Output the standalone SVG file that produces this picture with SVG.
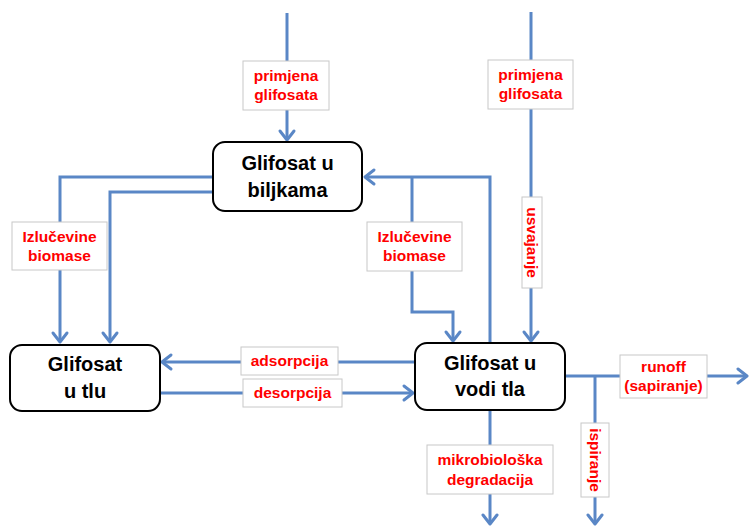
<svg xmlns="http://www.w3.org/2000/svg" width="749" height="526" viewBox="0 0 749 526">
<defs>
<marker id="arr" markerUnits="userSpaceOnUse" markerWidth="20" markerHeight="20" viewBox="-12 -10 14 20" refX="0" refY="0" orient="auto">
<path d="M-9,-7 L0,0 L-9,7" fill="none" stroke="#5a87c6" stroke-width="3" stroke-linecap="round" stroke-linejoin="round"/>
</marker>
<style>
.c{fill:none;stroke:#5a87c6;stroke-width:3}
.a{marker-end:url(#arr)}
.n rect{fill:#fff;stroke:#000;stroke-width:2}
.n text{font-family:"Liberation Sans",Arial,sans-serif;font-weight:bold;font-size:20px;fill:#000;text-anchor:middle}
.l rect{fill:#fff;stroke:#c8c8c8;stroke-width:1}
.l text{font-family:"Liberation Sans",Arial,sans-serif;font-weight:bold;font-size:15.5px;fill:#ff0000;text-anchor:middle}
</style>
</defs>
<g id="connectors">
<path class="c a" d="M287,13 V140"/>
<path class="c a" d="M531,12 V341"/>
<path class="c a" d="M490,343 V177 H365"/>
<path class="c a" d="M412,177 V312 H453 V341"/>
<path class="c a" d="M213,177 H60 V342"/>
<path class="c a" d="M213,192 H110 V342"/>
<path class="c a" d="M415,362 H162"/>
<path class="c a" d="M160,393 H413"/>
<path class="c a" d="M565,376 H747"/>
<path class="c a" d="M595,376 V524"/>
<path class="c a" d="M490,410 V524"/>
</g>
<g id="n_biljkama" class="n">
<rect x="213" y="142" width="149" height="69" rx="12"/>
<text x="287.5" y="170">Glifosat u</text>
<text x="287.5" y="197">biljkama</text>
</g>
<g id="n_tlu" class="n">
<rect x="10" y="345" width="150" height="66" rx="12"/>
<text x="85" y="371">Glifosat</text>
<text x="85" y="398">u tlu</text>
</g>
<g id="n_vodi" class="n">
<rect x="415" y="343" width="150" height="67" rx="12"/>
<text x="490" y="370">Glifosat u</text>
<text x="490" y="396">vodi tla</text>
</g>
<g id="l_primjena1" class="l">
<rect x="243" y="61" width="86" height="49"/>
<text x="286" y="81">primjena</text>
<text x="286" y="100">glifosata</text>
</g>
<g id="l_primjena2" class="l">
<rect x="488" y="60" width="85" height="49"/>
<text x="530.5" y="80">primjena</text>
<text x="530.5" y="99">glifosata</text>
</g>
<g id="l_usvajanje" class="l">
<rect x="522" y="197" width="20" height="91"/>
<text transform="translate(532,242.5) rotate(90)" y="5.5">usvajanje</text>
</g>
<g id="l_izl1" class="l">
<rect x="12" y="222" width="95" height="48"/>
<text x="59.5" y="242">Izlučevine</text>
<text x="59.5" y="261">biomase</text>
</g>
<g id="l_izl2" class="l">
<rect x="367" y="222" width="95" height="49"/>
<text x="414.5" y="242">Izlučevine</text>
<text x="414.5" y="261">biomase</text>
</g>
<g id="l_adsorpcija" class="l">
<rect x="241" y="347" width="97" height="28"/>
<text x="289.5" y="366">adsorpcija</text>
</g>
<g id="l_desorpcija" class="l">
<rect x="243" y="379" width="99" height="28"/>
<text x="292.5" y="398">desorpcija</text>
</g>
<g id="l_runoff" class="l">
<rect x="620" y="355" width="87" height="43"/>
<text x="663.5" y="372">runoff</text>
<text x="663.5" y="391">(sapiranje)</text>
</g>
<g id="l_ispiranje" class="l">
<rect x="581" y="423" width="28" height="74"/>
<text transform="translate(595,460) rotate(90)" y="5.5">ispiranje</text>
</g>
<g id="l_mikro" class="l">
<rect x="427" y="445" width="126" height="49"/>
<text x="490" y="465">mikrobiološka</text>
<text x="490" y="485">degradacija</text>
</g>
</svg>
